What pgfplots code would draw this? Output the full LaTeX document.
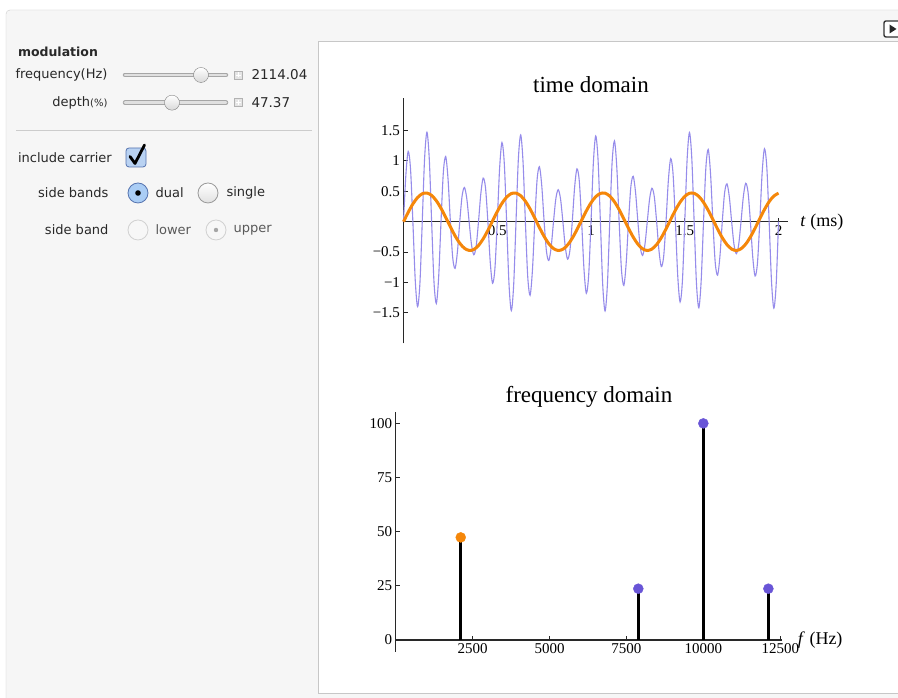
\documentclass[border=0pt]{standalone}
\usepackage{fontspec}
\setmainfont{DejaVu Sans}
\newfontfamily\plotfont{Liberation Serif}
\usepackage{pgfplots}
\pgfplotsset{compat=1.18}
\definecolor{bluewave}{RGB}{150,140,235}
\definecolor{orangewave}{RGB}{245,135,10}
\definecolor{dotblue}{RGB}{105,85,215}
\definecolor{axisgray}{RGB}{40,40,40}
\definecolor{panelbg}{RGB}{246,246,246}
\definecolor{framegray}{RGB}{205,205,205}
\definecolor{uitext}{RGB}{40,40,40}
\definecolor{checkfill}{RGB}{185,210,242}
\definecolor{checkdraw}{RGB}{85,115,175}
\definecolor{radiofill}{RGB}{170,205,245}
\begin{document}
\begin{tikzpicture}[x=1pt,y=1pt]
\useasboundingbox (0,0) rectangle (898,698);
\begin{scope}
\clip (0,0) rectangle (898,698);
\fill[white] (0,0) rectangle (898,698);
\draw[framegray, fill=panelbg, rounded corners=4pt] (6,-20) rectangle (920,688);
\draw[black!22, fill=white] (318,5) rectangle (920,657);
% top-right button
\draw[line width=1.4pt, black!80, fill=white, rounded corners=2pt] (884,661) rectangle (904,677);
\fill[black!85] (889.5,664.5) -- (896.5,669) -- (889.5,673.5) -- cycle;
\end{scope}
% separator
\draw[black!20] (16,568) -- (312,568);
% sliders
\foreach \yy/\kx in {623/201,595.3/172}{
  \draw[line width=4.5pt, line cap=round, black!35] (125,\yy) -- (226,\yy);
  \draw[line width=2.6pt, line cap=round, black!12] (125,\yy) -- (226,\yy);
  \shade[top color=white, bottom color=black!15] (\kx,\yy) circle (7.5);
  \draw[black!50] (\kx,\yy) circle (7.5);
  \draw[black!30, fill=black!10] (234.5,\yy-4) rectangle (242.5,\yy+4);
  \draw[white, line width=0.9pt] (236,\yy) -- (241,\yy) (238.5,\yy-2.5) -- (238.5,\yy+2.5);
}
% panel text
\node[anchor=west, text=uitext, font=\bfseries\fontsize{12.5}{14}\selectfont] at (14.5,646) {modulation};
\node[anchor=east, text=uitext, font=\fontsize{13}{15}\selectfont] at (111,623) {frequency(Hz)};
\node[anchor=east, text=uitext, font=\fontsize{13}{15}\selectfont] at (111,595.3) {depth{\fontsize{10}{12}\selectfont(\%)}};
\node[anchor=west, text=uitext, font=\fontsize{13.5}{15}\selectfont] at (248,623) {2114.04};
\node[anchor=west, text=uitext, font=\fontsize{13.5}{15}\selectfont] at (248,595.3) {47.37};
\node[anchor=west, text=uitext, font=\fontsize{13}{15}\selectfont] at (14.5,540) {include carrier};
\node[anchor=east, text=uitext, font=\fontsize{13}{15}\selectfont] at (112,505) {side bands};
\node[anchor=east, text=uitext, font=\fontsize{13}{15}\selectfont] at (112,468) {side band};
\node[anchor=west, text=uitext, font=\fontsize{13}{15}\selectfont] at (152,505) {dual};
\node[anchor=west, text=uitext, font=\fontsize{13}{15}\selectfont] at (223,505) {single};
\node[anchor=west, text=black!65, font=\fontsize{13}{15}\selectfont] at (152,468) {lower};
\node[anchor=west, text=black!65, font=\fontsize{13}{15}\selectfont] at (230,468) {upper};
% checkbox
\draw[rounded corners=3pt, fill=checkfill, draw=checkdraw, line width=0.8pt] (126,531) rectangle (146,550);
\draw[line width=2.8pt, black, line cap=round, line join=round] (130,541.5) -- (135,534.5) -- (144.5,553);
% radios
\draw[fill=radiofill, draw=checkdraw, line width=0.8pt] (138,505) circle (10);
\fill[black] (138,505) circle (2.8);
\shade[top color=white, bottom color=black!12] (208,505) circle (10);
\draw[black!40, line width=0.8pt] (208,505) circle (10);
\draw[fill=black!3, draw=black!18, line width=0.8pt] (138,468) circle (10);
\draw[fill=black!3, draw=black!18, line width=0.8pt] (216,468) circle (10);
\fill[black!35] (216,468) circle (2.2);
% titles
\node[anchor=base, font=\plotfont\fontsize{23}{24}\selectfont] at (591,605) {time domain};
\node[anchor=base, font=\plotfont\fontsize{23}{24}\selectfont] at (589,295) {frequency domain};
% time domain axis
\begin{axis}[at={(403.5pt,354.7pt)}, anchor=south west, scale only axis,
  width=384.4pt, height=245pt,
  xmin=0, xmax=2.05, ymin=-2, ymax=2.03,
  axis lines=middle, axis line style={-, axisgray, line width=1.2pt},
  tick align=inside, major tick length=4pt, tick style={axisgray, line width=0.9pt},
  xtick={0.5,1,1.5,2}, xticklabels={0.5,1,1.5,2},
  ytick={-1.5,-1,-0.5,0.5,1,1.5}, yticklabels={−1.5,−1,−0.5,0.5,1,1.5},
  tick label style={font=\plotfont\fontsize{15}{15}\selectfont},
  clip=false]
\addplot[bluewave, line width=1.1pt, smooth, no markers] coordinates {
(0,0)(0.0125,0.7625)(0.025,1.1544)(0.0375,0.8671)(0.05,0)(0.0625,-0.9544)(0.075,-1.3976)(0.0875,-1.0145)
(0.1,0)(0.1125,1.0411)(0.125,1.4718)(0.1375,1.0312)(0.15,0)(0.1625,-0.9858)(0.175,-1.3454)(0.1875,-0.9100)
(0.2,0)(0.2125,0.8122)(0.225,1.0721)(0.2375,0.7027)(0.25,0)(0.2625,-0.5938)(0.275,-0.7683)(0.2875,-0.4972)
(0.3,0)(0.3125,0.4236)(0.325,0.5629)(0.3375,0.3809)(0.35,0)(0.3625,-0.3739)(0.375,-0.5433)(0.3875,-0.4033)
(0.4,0)(0.4125,0.4659)(0.425,0.7179)(0.4375,0.5549)(0.45,0)(0.4625,-0.6604)(0.475,-1.0124)(0.4875,-0.7711)
(0.5,0)(0.5125,0.8748)(0.525,1.3016)(0.5375,0.9602)(0.55,0)(0.5625,-1.0179)(0.575,-1.4627)(0.5875,-1.0416)
(0.6,0)(0.6125,1.0288)(0.625,1.4270)(0.6375,0.9810)(0.65,0)(0.6625,-0.9030)(0.675,-1.2098)(0.6875,-0.8038)
(0.7,0)(0.7125,0.6940)(0.725,0.9034)(0.7375,0.5856)(0.75,0)(0.7625,-0.4905)(0.775,-0.6381)(0.7875,-0.4190)
(0.8,0)(0.8125,0.3791)(0.825,0.5266)(0.8375,0.3749)(0.85,0)(0.8625,-0.4071)(0.875,-0.6164)(0.8875,-0.4721)
(0.9,0)(0.9125,0.5627)(0.925,0.8693)(0.9375,0.6691)(0.95,0)(0.9625,-0.7797)(0.975,-1.1776)(0.9875,-0.8823)
(1,0)(1.0125,0.9658)(1.025,1.4106)(1.0375,1.0211)(1.05,0)(1.0625,-1.0420)(1.075,-1.4689)(1.0875,-1.0263)
(1.1,0)(1.1125,0.9757)(1.125,1.3279)(1.1375,0.8959)(1.15,0)(1.1625,-0.7954)(1.175,-1.0475)(1.1875,-0.6852)
(1.2,0)(1.2125,0.5774)(1.225,0.7469)(1.2375,0.4839)(1.25,0)(1.2625,-0.4146)(1.275,-0.5539)(1.2875,-0.3774)
(1.3,0)(1.3125,0.3762)(1.325,0.5505)(1.3375,0.4111)(1.35,0)(1.3625,-0.4785)(1.375,-0.7382)(1.3875,-0.5707)
(1.4,0)(1.4125,0.6778)(1.425,1.0372)(1.4375,0.7882)(1.45,0)(1.4625,-0.8898)(1.475,-1.3205)(1.4875,-0.9713)
(1.5,0)(1.5125,1.0240)(1.525,1.4673)(1.5375,1.0421)(1.55,0)(1.5625,-1.0235)(1.575,-1.4157)(1.5875,-0.9705)
(1.6,0)(1.6125,0.8886)(1.625,1.1873)(1.6375,0.7869)(1.65,0)(1.6625,-0.6764)(1.675,-0.8793)(1.6875,-0.5694)
(1.7,0)(1.7125,0.4774)(1.725,0.6227)(1.7375,0.4104)(1.75,0)(1.7625,-0.3760)(1.775,-0.5263)(1.7875,-0.3777)
(1.8,0)(1.8125,0.4153)(1.825,0.6314)(1.8375,0.4849)(1.85,0)(1.8625,-0.5788)(1.875,-0.8933)(1.8875,-0.6866)
(1.9,0)(1.9125,0.7968)(1.925,1.2004)(1.9375,0.8970)(1.95,0)(1.9625,-0.9765)(1.975,-1.4223)(1.9875,-1.0267)
(2,0)};
\addplot[orangewave, line width=3pt, smooth, no markers] coordinates {
(0,0)(0.025,0.1544)(0.05,0.2919)(0.075,0.3976)(0.1,0.4598)(0.125,0.4718)(0.15,0.4322)(0.175,0.3454)
(0.2,0.2208)(0.225,0.0721)(0.25,-0.0844)(0.275,-0.2317)(0.3,-0.3538)(0.325,-0.4371)(0.35,-0.4728)(0.375,-0.4567)
(0.4,-0.3909)(0.425,-0.2821)(0.45,-0.1426)(0.475,0.0124)(0.5,0.1661)(0.525,0.3016)(0.55,0.4042)(0.575,0.4627)
(0.6,0.4705)(0.625,0.4270)(0.65,0.3369)(0.675,0.2098)(0.7,0.0599)(0.725,-0.0966)(0.75,-0.2425)(0.775,-0.3619)
(0.8,-0.4418)(0.825,-0.4734)(0.85,-0.4532)(0.875,-0.3836)(0.9,-0.2720)(0.925,-0.1307)(0.95,0.0248)(0.975,0.1776)
(1,0.3111)(1.025,0.4106)(1.05,0.4652)(1.075,0.4689)(1.1,0.4214)(1.125,0.3279)(1.15,0.1986)(1.175,0.0475)
(1.2,-0.1087)(1.225,-0.2531)(1.25,-0.3698)(1.275,-0.4461)(1.3,-0.4737)(1.325,-0.4495)(1.35,-0.3762)(1.375,-0.2618)
(1.4,-0.1188)(1.425,0.0372)(1.45,0.1891)(1.475,0.3205)(1.5,0.4167)(1.525,0.4673)(1.55,0.4670)(1.575,0.4157)
(1.6,0.3188)(1.625,0.1873)(1.65,0.0351)(1.675,-0.1207)(1.7,-0.2635)(1.725,-0.3773)(1.75,-0.4501)(1.775,-0.4737)
(1.8,-0.4454)(1.825,-0.3686)(1.85,-0.2513)(1.875,-0.1067)(1.9,0.0496)(1.925,0.2004)(1.95,0.3295)(1.975,0.4223)
(2,0.4692)};
\node[anchor=west, font=\plotfont\fontsize{18}{18}\selectfont, xshift=9pt] at (axis cs:2.05,0) {\textit{t} (ms)};
\end{axis}
% frequency domain axis
\begin{axis}[at={(395.7pt,46.3pt)}, anchor=south west, scale only axis,
  width=386.7pt, height=240pt,
  xmin=0, xmax=12570, ymin=-5.4, ymax=105.4,
  axis lines=middle, axis line style={-, axisgray, line width=1.2pt},
  hide obscured y ticks=false, hide obscured x ticks=false,
  tick align=inside, major tick length=4pt, tick style={axisgray, line width=0.9pt},
  xtick={2500,5000,7500,10000,12500}, xticklabels={2500,5000,7500,10000,12500},
  scaled x ticks=false,
  ytick={0,25,50,75,100}, yticklabels={0,25,50,75,100},
  tick label style={font=\plotfont\fontsize{15}{15}\selectfont},
  clip=false]
\addplot[ycomb, black, line width=3pt, no markers] coordinates {(2114.04,47.37)(7885.96,23.68)(10000,100)(12114.04,23.68)};
\addplot[only marks, mark=*, mark size=5pt, orangewave, mark options={draw=orangewave, fill=orangewave}] coordinates {(2114.04,47.37)};
\addplot[only marks, mark=*, mark size=5pt, dotblue, mark options={draw=dotblue, fill=dotblue}] coordinates {(7885.96,23.68)(10000,100)(12114.04,23.68)};
\node[anchor=west, font=\plotfont\fontsize{18}{18}\selectfont, xshift=12pt] at (axis cs:12570,0) {\textit{f} (Hz)};
\end{axis}
\end{tikzpicture}
\end{document}
